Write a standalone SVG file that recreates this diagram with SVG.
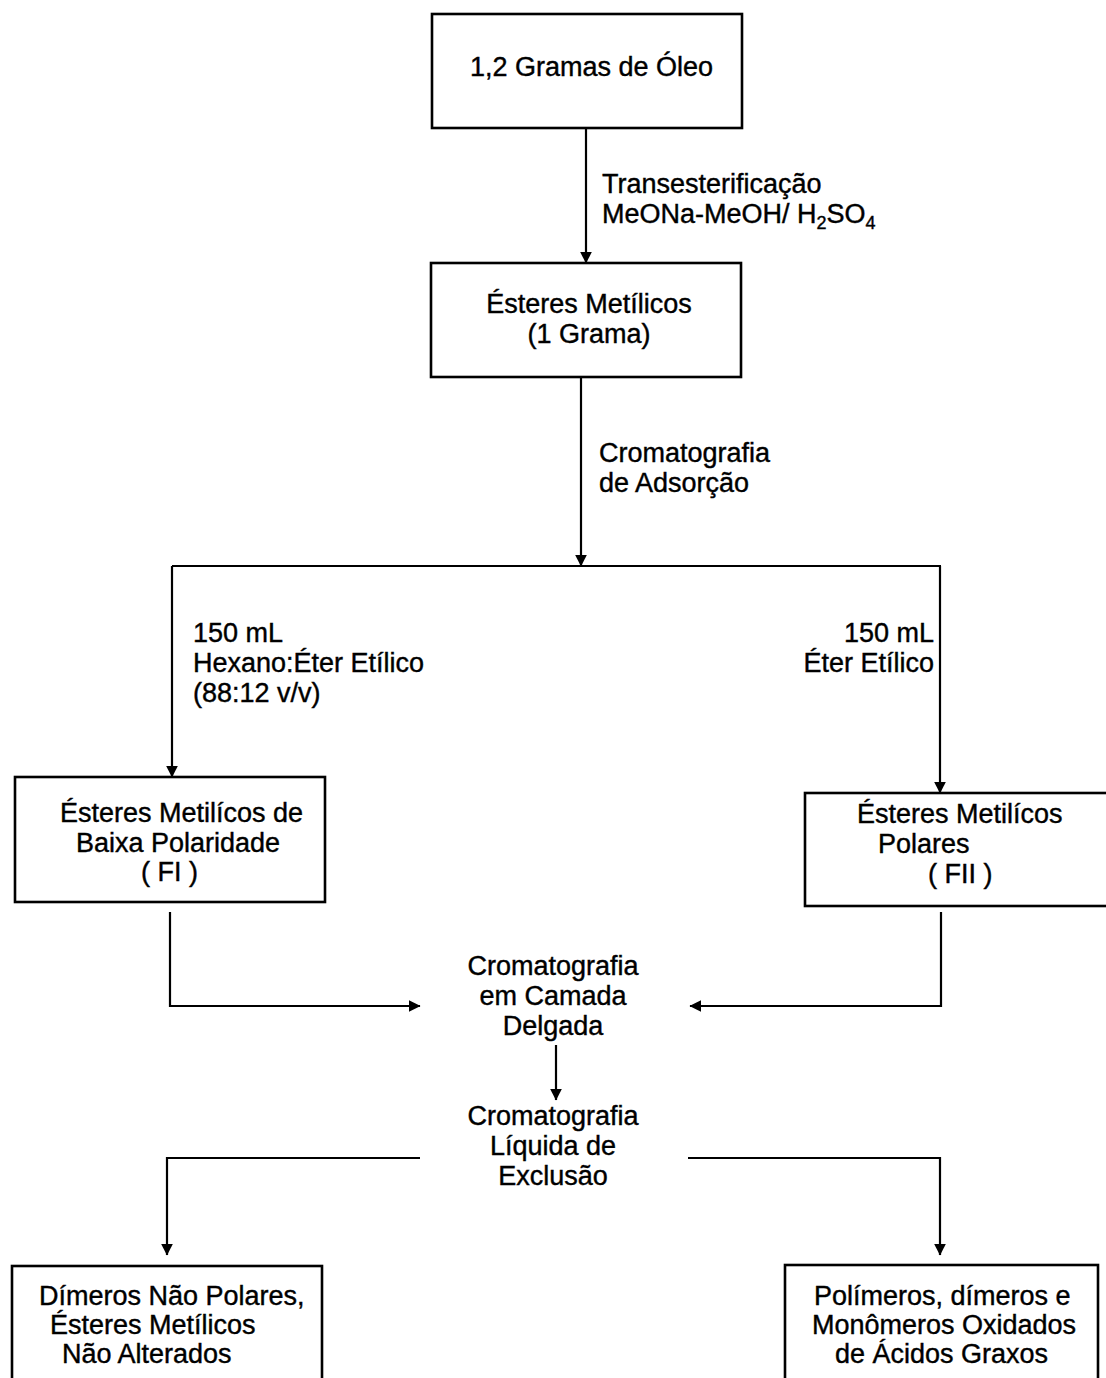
<svg xmlns="http://www.w3.org/2000/svg" width="1106" height="1378" viewBox="0 0 1106 1378">
<style>
text{font-family:"Liberation Sans",Arial,sans-serif;font-size:27px;fill:#000;stroke:#000;stroke-width:0.4}
.sub{font-size:18px}
.box{fill:#fff;stroke:#000;stroke-width:2.6}
.ln{fill:none;stroke:#000;stroke-width:2.2}
.c{text-anchor:middle}
.e{text-anchor:end}
</style>
<defs>
<marker id="ah" viewBox="0 0 10 10" refX="9.5" refY="5" markerWidth="12" markerHeight="12" markerUnits="userSpaceOnUse" orient="auto">
<path d="M0,0 L10,5 L0,10 z" fill="#000"/>
</marker>
</defs>
<rect width="1106" height="1378" fill="#fff"/>
<g id="connectors">
<line class="ln" x1="586" y1="128" x2="586" y2="263" marker-end="url(#ah)"/>
<line class="ln" x1="581" y1="377" x2="581" y2="566" marker-end="url(#ah)"/>
<line class="ln" x1="172" y1="566" x2="941" y2="566"/>
<line class="ln" x1="172" y1="566" x2="172" y2="777" marker-end="url(#ah)"/>
<line class="ln" x1="940" y1="566" x2="940" y2="793" marker-end="url(#ah)"/>
<polyline class="ln" points="170,912 170,1006 420,1006" marker-end="url(#ah)"/>
<polyline class="ln" points="941,912 941,1006 690,1006" marker-end="url(#ah)"/>
<line class="ln" x1="556" y1="1045" x2="556" y2="1100" marker-end="url(#ah)"/>
<polyline class="ln" points="420,1158 167,1158 167,1255" marker-end="url(#ah)"/>
<polyline class="ln" points="688,1158 940,1158 940,1255" marker-end="url(#ah)"/>
</g>
<g id="label-transesterificacao">
<text x="602" y="193">Transesterificação</text>
<text x="602" y="223">MeONa-MeOH/ H<tspan class="sub" dy="6">2</tspan><tspan dy="-6">SO</tspan><tspan class="sub" dy="6">4</tspan></text>
</g>
<g id="label-adsorcao">
<text x="599" y="462">Cromatografia</text>
<text x="599" y="492">de Adsorção</text>
</g>
<g id="label-hexano">
<text x="193" y="642">150 mL</text>
<text x="193" y="672">Hexano:Éter Etílico</text>
<text x="193" y="702">(88:12 v/v)</text>
</g>
<g id="label-eter">
<text class="e" x="934" y="642">150 mL</text>
<text class="e" x="934" y="672">Éter Etílico</text>
</g>
<g id="node-oleo">
<rect class="box" x="432" y="14" width="310" height="114"/>
<text x="470" y="76">1,2 Gramas de Óleo</text>
</g>
<g id="node-esteres">
<rect class="box" x="431" y="263" width="310" height="114"/>
<text class="c" x="589" y="313">Ésteres Metílicos</text>
<text class="c" x="589" y="343">(1 Grama)</text>
</g>
<g id="node-fi">
<rect class="box" x="15" y="777" width="310" height="125"/>
<text x="60" y="822">Ésteres Metilícos de</text>
<text x="76" y="852">Baixa Polaridade</text>
<text x="141" y="881">( FI )</text>
</g>
<g id="node-fii">
<rect class="box" x="805" y="793" width="330" height="113"/>
<text x="857" y="823">Ésteres Metilícos</text>
<text x="878" y="853">Polares</text>
<text x="928" y="883">( FII )</text>
</g>
<g id="node-ccd">
<text class="c" x="553" y="975">Cromatografia</text>
<text class="c" x="553" y="1005">em Camada</text>
<text class="c" x="553" y="1035">Delgada</text>
</g>
<g id="node-cle">
<text class="c" x="553" y="1125">Cromatografia</text>
<text class="c" x="553" y="1155">Líquida de</text>
<text class="c" x="553" y="1185">Exclusão</text>
</g>
<g id="node-dimeros">
<rect class="box" x="12" y="1266" width="310" height="140"/>
<text x="39" y="1305">Dímeros Não Polares,</text>
<text x="50" y="1334">Ésteres Metílicos</text>
<text x="62" y="1363">Não Alterados</text>
</g>
<g id="node-polimeros">
<rect class="box" x="785" y="1265" width="313" height="140"/>
<text x="814" y="1305">Polímeros, dímeros e</text>
<text x="812" y="1334">Monômeros Oxidados</text>
<text x="835" y="1363">de Ácidos Graxos</text>
</g>
</svg>
